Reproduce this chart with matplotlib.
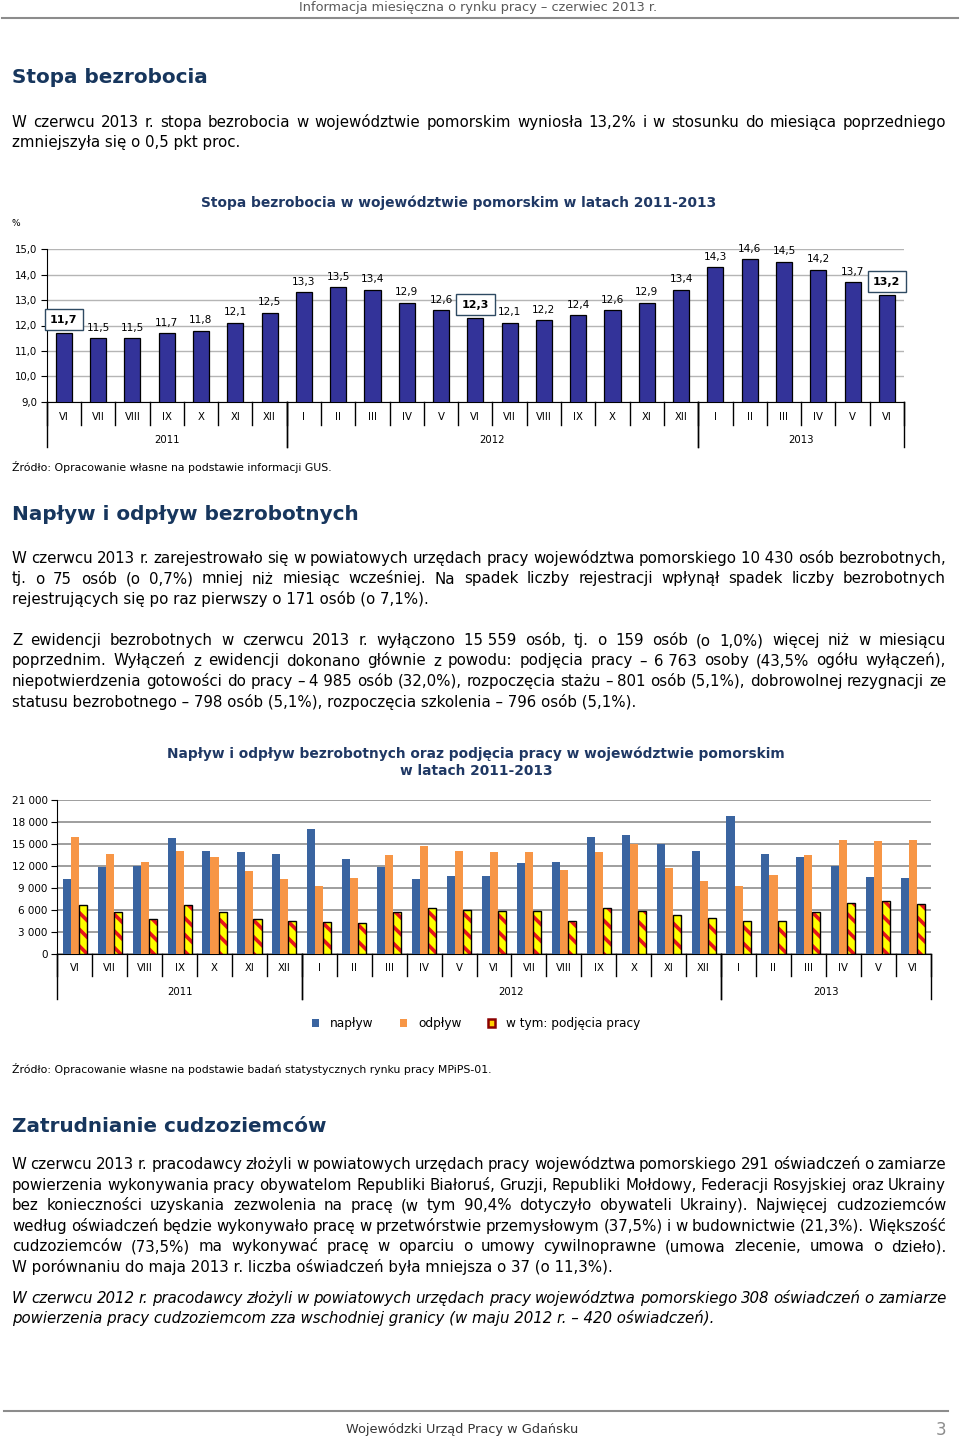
import numpy as np
import matplotlib
matplotlib.use("Agg")
import matplotlib.pyplot as plt
from matplotlib.lines import Line2D
from matplotlib.patches import Patch
from matplotlib.ticker import FuncFormatter

plt.rcParams["font.family"] = ["DejaVu Sans"]
plt.rcParams["hatch.linewidth"] = 2.6

W, H = 960, 1438
NAVY = "#17365D"
NB = "\u00a0"  # non-breaking space inside numbers

# --- data -------------------------------------------------------------
months = ["VI", "VII", "VIII", "IX", "X", "XI", "XII",
          "I", "II", "III", "IV", "V", "VI", "VII", "VIII", "IX", "X", "XI", "XII",
          "I", "II", "III", "IV", "V", "VI"]
years = ["2011", "2012", "2013"]
year_first = [0, 7, 19]
year_last = [6, 18, 24]

rate = [11.7, 11.5, 11.5, 11.7, 11.8, 12.1, 12.5,
        13.3, 13.5, 13.4, 12.9, 12.6, 12.3, 12.1, 12.2, 12.4, 12.6, 12.9, 13.4,
        14.3, 14.6, 14.5, 14.2, 13.7, 13.2]
boxed = [0, 12, 24]

inflow = [10200, 11900, 12000, 15800, 14100, 13900, 13700,
          17100, 13000, 11900, 10200, 10700, 10700, 12400, 12600, 16000, 16200, 15000, 14100,
          18800, 13600, 13200, 12050, 10505, 10430]
outflow = [16000, 13700, 12600, 14100, 13200, 11300, 10200,
           9300, 10400, 13500, 14700, 14100, 13900, 13900, 11500, 13900, 15000, 11700, 10000,
           9300, 10800, 13500, 15600, 15400, 15559]
jobs = [6600, 5700, 4700, 6600, 5700, 4700, 4500,
        4300, 4200, 5700, 6300, 6000, 5800, 5800, 4500, 6200, 5800, 5300, 4900,
        4500, 4500, 5700, 7000, 7200, 6763]
series_names = ["napływ", "odpływ", "w tym: podjęcia pracy"]


def fx(x):
    return x / W


def fy(y):
    return 1 - y / H


fig = plt.figure(figsize=(9.6, 14.38), dpi=100)
renderer = fig.canvas.get_renderer()


def put_line(text, y, justify=True, x0=12, x1=946, **kw):
    words = text.split(" ")
    if not justify or len(words) == 1:
        fig.text(fx(x0), fy(y), text, ha="left", va="baseline", **kw)
        return
    objs = [fig.text(fx(x0), fy(y), w, ha="left", va="baseline", **kw) for w in words]
    widths = [o.get_window_extent(renderer).width for o in objs]
    gap = (x1 - x0 - sum(widths)) / (len(words) - 1)
    x = x0
    for o, w in zip(objs, widths):
        o.set_x(fx(x))
        x += w + gap


def paragraph(lines, y0, step=20.5, **kw):
    kw.setdefault("fontsize", 10.8)
    for k, line in enumerate(lines):
        put_line(line, y0 + k * step, justify=k < len(lines) - 1, **kw)


def heading(text, y):
    fig.text(fx(12), fy(y), text, ha="left", va="baseline", fontsize=14.4,
             weight="bold", color=NAVY)


def year_axis(ax, cat_px, year_px, cat_lbl_px, year_lbl_px):
    hpx = ax.get_position().height * H
    tr = ax.get_xaxis_transform()
    for b in np.arange(-0.5, len(months), 1.0):
        ax.plot([b, b], [0, -cat_px / hpx], transform=tr, color="black",
                lw=1, clip_on=False)
    for f, l, yr in zip(year_first, year_last, years):
        for b in (f - 0.5, l + 0.5):
            ax.plot([b, b], [0, -year_px / hpx], transform=tr, color="black",
                    lw=1, clip_on=False)
        ax.text((f + l) / 2, -year_lbl_px / hpx, yr, transform=tr,
                ha="center", va="center", fontsize=7.3)
    ax.set_xticks(range(len(months)))
    ax.set_xticklabels(months, fontsize=7.3)
    ax.tick_params(axis="x", length=0, pad=cat_lbl_px * 0.72 - 3.7)


# --- page header / footer ---------------------------------------------
fig.text(fx(478), fy(7), "Informacja miesięczna o rynku pracy – czerwiec 2013 r.",
         ha="center", va="center", fontsize=9.3, color="#595959")
fig.add_artist(Line2D([fx(2), fx(958)], [fy(18), fy(18)], transform=fig.transFigure,
                      color="#8C8C8C", lw=1.5))
fig.add_artist(Line2D([fx(4), fx(948)], [fy(1411), fy(1411)], transform=fig.transFigure,
                      color="#8C8C8C", lw=1.5))
fig.text(fx(462), fy(1429), "Wojewódzki Urząd Pracy w Gdańsku",
         ha="center", va="center", fontsize=9.3, color="#333333")
fig.text(fx(941), fy(1430), "3", ha="center", va="center", fontsize=12, color="#8C8C8C")

# --- section 1 -----------------------------------------------------------
heading("Stopa bezrobocia", 83)
paragraph([
    "W czerwcu 2013 r. stopa bezrobocia w województwie pomorskim wyniosła 13,2% i w stosunku do miesiąca poprzedniego",
    "zmniejszyła się o 0,5 pkt proc.",
], 127)

fig.text(fx(459), fy(203), "Stopa bezrobocia w województwie pomorskim w latach 2011-2013",
         ha="center", va="center", fontsize=9.9, weight="bold", color="#1F3864")
fig.text(fx(12), fy(224), "%", ha="left", va="center", fontsize=6.5)

ax1 = fig.add_axes([fx(46.7), fy(401.7), fx(904) - fx(46.7), (401.7 - 249.3) / H])
x = np.arange(len(months))
ax1.bar(x, rate, width=0.47, color="#333399", edgecolor="black", linewidth=0.9, zorder=3)
ax1.set_xlim(-0.5, len(months) - 0.5)
ax1.set_ylim(9, 15)
ax1.set_yticks(np.arange(9, 15.1, 1))
ax1.yaxis.set_major_formatter(FuncFormatter(lambda v, p: f"{v:.1f}".replace(".", ",")))
ax1.tick_params(axis="y", length=4, width=0.8, labelsize=7.3, pad=3)
ax1.yaxis.grid(True, color="#B5B5B5", lw=1)
ax1.set_axisbelow(True)
for s in ("top", "right"):
    ax1.spines[s].set_visible(False)
for i, v in enumerate(rate):
    lab = f"{v:.1f}".replace(".", ",")
    if i in boxed:
        ax1.annotate(lab, (i, v), xytext=(0, 6), textcoords="offset points",
                     ha="center", va="bottom", fontsize=8, weight="bold", zorder=5,
                     bbox=dict(boxstyle="square,pad=0.5", fc="white", ec="#2E4A62", lw=1))
    else:
        ax1.annotate(lab, (i, v), xytext=(0, 4), textcoords="offset points",
                     ha="center", va="bottom", fontsize=7.6)
year_axis(ax1, 23.3, 45.3, 15.3, 38.3)

fig.text(fx(12), fy(467), "Źródło: Opracowanie własne na podstawie informacji GUS.",
         ha="left", va="center", fontsize=7.8)

# --- section 2 -----------------------------------------------------------
heading("Napływ i odpływ bezrobotnych", 520)
paragraph([
    f"W czerwcu 2013 r. zarejestrowało się w powiatowych urzędach pracy województwa pomorskiego 10{NB}430 osób bezrobotnych,",
    "tj. o 75 osób (o 0,7%) mniej niż miesiąc wcześniej. Na spadek liczby rejestracji wpłynął spadek liczby bezrobotnych",
    "rejestrujących się po raz pierwszy o 171 osób (o 7,1%).",
], 563)
paragraph([
    f"Z ewidencji bezrobotnych w czerwcu 2013 r. wyłączono 15{NB}559 osób, tj. o 159 osób (o 1,0%) więcej niż w miesiącu",
    f"poprzednim. Wyłączeń z ewidencji dokonano głównie z powodu: podjęcia pracy – 6{NB}763 osoby (43,5% ogółu wyłączeń),",
    f"niepotwierdzenia gotowości do pracy – 4{NB}985 osób (32,0%), rozpoczęcia stażu – 801 osób (5,1%), dobrowolnej rezygnacji ze",
    "statusu bezrobotnego – 798 osób (5,1%), rozpoczęcia szkolenia – 796 osób (5,1%).",
], 645)

fig.text(fx(476), fy(754), "Napływ i odpływ bezrobotnych oraz podjęcia pracy w województwie pomorskim",
         ha="center", va="center", fontsize=9.9, weight="bold", color="#1F3864")
fig.text(fx(476), fy(771), "w latach 2011-2013",
         ha="center", va="center", fontsize=9.9, weight="bold", color="#1F3864")

ax2 = fig.add_axes([fx(57.3), fy(953.7), fx(930.7) - fx(57.3), 153.4 / H])
bw = 0.23
ax2.bar(x - bw, inflow, width=bw, color="#3A64A0", linewidth=0, zorder=3)
ax2.bar(x, outflow, width=bw, color="#F79646", linewidth=0, zorder=3)
ax2.bar(x + bw, jobs, width=bw, color="#FFFF00", edgecolor="#E8141B", hatch="\\\\",
        linewidth=0, zorder=4)
ax2.bar(x + bw, jobs, width=bw, fill=False, edgecolor="black", linewidth=1, zorder=5)
ax2.set_xlim(-0.5, len(months) - 0.5)
ax2.set_ylim(0, 21000)
ax2.set_yticks(np.arange(0, 21001, 3000))
ax2.yaxis.set_major_formatter(FuncFormatter(lambda v, p: f"{int(v):,}".replace(",", " ")))
ax2.tick_params(axis="y", length=4, width=0.8, labelsize=7.5, pad=3)
ax2.yaxis.grid(True, color="#8E8E8E", lw=1.2)
ax2.set_axisbelow(True)
for s in ("top", "right"):
    ax2.spines[s].set_visible(False)
year_axis(ax2, 22.3, 45.3, 14.3, 38.3)

handles = [Patch(facecolor="#3A64A0"), Patch(facecolor="#F79646"),
           Patch(facecolor="#FFD000", edgecolor="#8B0000", lw=1.8)]
fig.legend(handles, series_names, loc="center", bbox_to_anchor=(fx(476), fy(1024)),
           ncol=3, frameon=False, fontsize=8.7, handlelength=0.6, handleheight=0.6,
           columnspacing=2.2, handletextpad=0.9)

fig.text(fx(12), fy(1069),
         "Źródło: Opracowanie własne na podstawie badań statystycznych rynku pracy MPiPS-01.",
         ha="left", va="center", fontsize=7.8)

# --- section 3 -----------------------------------------------------------
heading("Zatrudnianie cudzoziemców", 1132)
paragraph([
    "W czerwcu 2013 r. pracodawcy złożyli w powiatowych urzędach pracy województwa pomorskiego 291 oświadczeń o zamiarze",
    "powierzenia wykonywania pracy obywatelom Republiki Białoruś, Gruzji, Republiki Mołdowy, Federacji Rosyjskiej oraz Ukrainy",
    "bez konieczności uzyskania zezwolenia na pracę (w tym 90,4% dotyczyło obywateli Ukrainy). Najwięcej cudzoziemców",
    "według oświadczeń będzie wykonywało pracę w przetwórstwie przemysłowym (37,5%) i w budownictwie (21,3%). Większość",
    "cudzoziemców (73,5%) ma wykonywać pracę w oparciu o umowy cywilnoprawne (umowa zlecenie, umowa o dzieło).",
    "W porównaniu do maja 2013 r. liczba oświadczeń była mniejsza o 37 (o 11,3%).",
], 1169, step=20.6)
paragraph([
    "W czerwcu 2012 r. pracodawcy złożyli w powiatowych urzędach pracy województwa pomorskiego 308 oświadczeń o zamiarze",
    "powierzenia pracy cudzoziemcom zza wschodniej granicy (w maju 2012 r. – 420 oświadczeń).",
], 1303, style="italic")

fig.savefig("out.png", dpi=100)
